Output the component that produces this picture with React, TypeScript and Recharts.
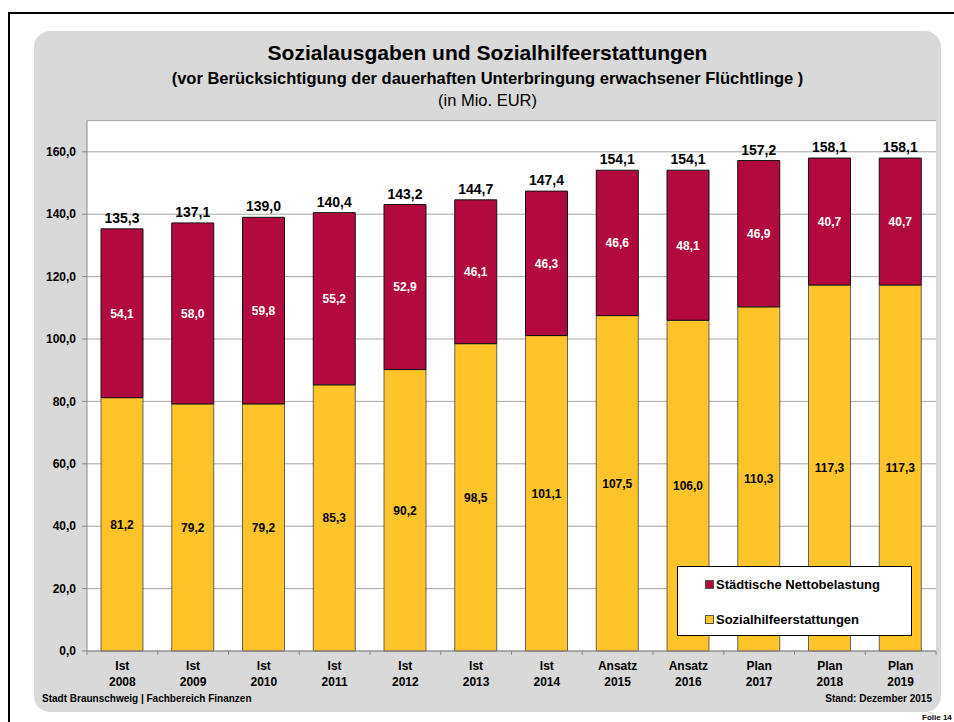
import { BarChart, Bar, XAxis, YAxis, CartesianGrid, LabelList } from 'recharts';

const kinds = ['Ist', 'Ist', 'Ist', 'Ist', 'Ist', 'Ist', 'Ist', 'Ansatz', 'Ansatz', 'Plan', 'Plan', 'Plan'];
const years = ['2008', '2009', '2010', '2011', '2012', '2013', '2014', '2015', '2016', '2017', '2018', '2019'];
const erstattungen = [81.2, 79.2, 79.2, 85.3, 90.2, 98.5, 101.1, 107.5, 106.0, 110.3, 117.3, 117.3];
const netto = [54.1, 58.0, 59.8, 55.2, 52.9, 46.1, 46.3, 46.6, 48.1, 46.9, 40.7, 40.7];
const totals = [135.3, 137.1, 139.0, 140.4, 143.2, 144.7, 147.4, 154.1, 154.1, 157.2, 158.1, 158.1];
const yTicks = [0, 20, 40, 60, 80, 100, 120, 140, 160];

const RED = '#B20A3F';
const YELLOW = '#FFC42A';
const FONT = '"Liberation Sans", Arial, sans-serif';

const data = years.map((y, i) => ({
  cat: kinds[i] + '|' + y,
  erstattungen: erstattungen[i],
  netto: netto[i],
  total: totals[i],
}));

const fmt = (v: number) => v.toFixed(1).replace('.', ',');

const BAND = (936 - 87) / 12;

const CategoryTick = (props: any) => {
  const { x, y, payload, index } = props;
  const [a, b] = String(payload.value).split('|');
  return (
    <g>
      <line x1={x - BAND / 2} y1={y} x2={x - BAND / 2} y2={y + 4} stroke="#888" />
      {index === years.length - 1 && (
        <line x1={x + BAND / 2} y1={y} x2={x + BAND / 2} y2={y + 4} stroke="#888" />
      )}
      <text x={x} y={y + 19} textAnchor="middle" fontSize={12} fontWeight="bold" fill="#000" fontFamily={FONT}>
        {a}
      </text>
      <text x={x} y={y + 35} textAnchor="middle" fontSize={12} fontWeight="bold" fill="#000" fontFamily={FONT}>
        {b}
      </text>
    </g>
  );
};

const legendItems = [
  { name: 'Städtische Nettobelastung', color: RED, top: 10 },
  { name: 'Sozialhilfeerstattungen', color: YELLOW, top: 45 },
];

const LegendBox = () => (
  <div
    style={{
      position: 'absolute',
      left: 677,
      top: 566,
      width: 235,
      height: 70,
      background: '#fff',
      border: '1px solid #000',
      fontFamily: FONT,
      fontSize: 13,
      fontWeight: 'bold',
      boxSizing: 'border-box',
    }}
  >
    {legendItems.map((it) => (
      <div key={it.name} style={{ position: 'absolute', left: 27, top: it.top, display: 'flex', alignItems: 'center' }}>
        <span style={{ width: 7, height: 7, background: it.color, border: '1px solid #555', marginRight: 2 }} />
        <span>{it.name}</span>
      </div>
    ))}
  </div>
);

export default function App() {
  return (
    <div style={{ position: 'absolute', left: 0, top: 0, width: 954, height: 722, background: '#fff', overflow: 'hidden', fontFamily: FONT }}>
      <div style={{ position: 'absolute', left: 8, top: 12, width: 960, height: 720, borderTop: '2px solid #000', borderLeft: '2px solid #000' }} />
      <div style={{ position: 'absolute', left: 34, top: 31, width: 907, height: 681, background: '#D9D9D9', borderRadius: 16 }} />
      <div style={{ position: 'absolute', left: 34, top: 41, width: 907, textAlign: 'center', color: '#000' }}>
        <div style={{ fontSize: 21, fontWeight: 'bold', lineHeight: '24px' }}>Sozialausgaben und Sozialhilfeerstattungen</div>
        <div style={{ fontSize: 16.5, fontWeight: 'bold', lineHeight: '22px', marginTop: 2 }}>
          (vor Berücksichtigung der dauerhaften Unterbringung erwachsener Flüchtlinge )
        </div>
        <div style={{ fontSize: 16.5, lineHeight: '22px' }}>(in Mio. EUR)</div>
      </div>
      <div style={{ position: 'absolute', left: 0, top: 0 }}>
        <BarChart
          width={954}
          height={722}
          data={data}
          margin={{ top: 120.6, right: 18, left: 27, bottom: 31 }}
          barSize={42}
        >
          <CartesianGrid vertical={false} stroke="#A6A6A6" fill="#fff" fillOpacity={1} />
          <XAxis
            dataKey="cat"
            height={40}
            tick={<CategoryTick />}
            tickLine={false}
            tickSize={0}
            tickMargin={0}
            axisLine={{ stroke: '#888' }}
            interval={0}
          />
          <YAxis
            width={60}
            domain={[0, 170]}
            ticks={yTicks}
            tickFormatter={fmt}
            tickSize={5}
            tickMargin={6}
            tickLine={{ stroke: '#888' }}
            axisLine={{ stroke: '#888' }}
            tick={{ fontSize: 12, fontWeight: 'bold', fill: '#000', fontFamily: FONT }}
          />
          <Bar dataKey="erstattungen" name="Sozialhilfeerstattungen" stackId="a" fill={YELLOW} stroke="#444" strokeWidth={0.8} isAnimationActive={false}>
            <LabelList dataKey="erstattungen" position="center" formatter={(v: any) => fmt(Number(v))} style={{ fontSize: 12, fontWeight: 'bold', fill: '#000', fontFamily: FONT }} />
          </Bar>
          <Bar dataKey="netto" name="Städtische Nettobelastung" stackId="a" fill={RED} stroke="#111" strokeWidth={1} isAnimationActive={false}>
            <LabelList dataKey="netto" position="center" formatter={(v: any) => fmt(Number(v))} style={{ fontSize: 12, fontWeight: 'bold', fill: '#fff', fontFamily: FONT }} />
            <LabelList dataKey="total" position="top" offset={6} formatter={(v: any) => fmt(Number(v))} style={{ fontSize: 14, fontWeight: 'bold', fill: '#000', fontFamily: FONT }} />
          </Bar>
        </BarChart>
      </div>
      <LegendBox />
      <div style={{ position: 'absolute', left: 42, top: 693, fontSize: 10, fontWeight: 'bold' }}>Stadt Braunschweig | Fachbereich Finanzen</div>
      <div style={{ position: 'absolute', right: 22, top: 693, fontSize: 10, fontWeight: 'bold' }}>Stand: Dezember 2015</div>
      <div style={{ position: 'absolute', left: 922, top: 713, fontSize: 8, fontWeight: 'bold', whiteSpace: 'nowrap' }}>Folie 14</div>
    </div>
  );
}
